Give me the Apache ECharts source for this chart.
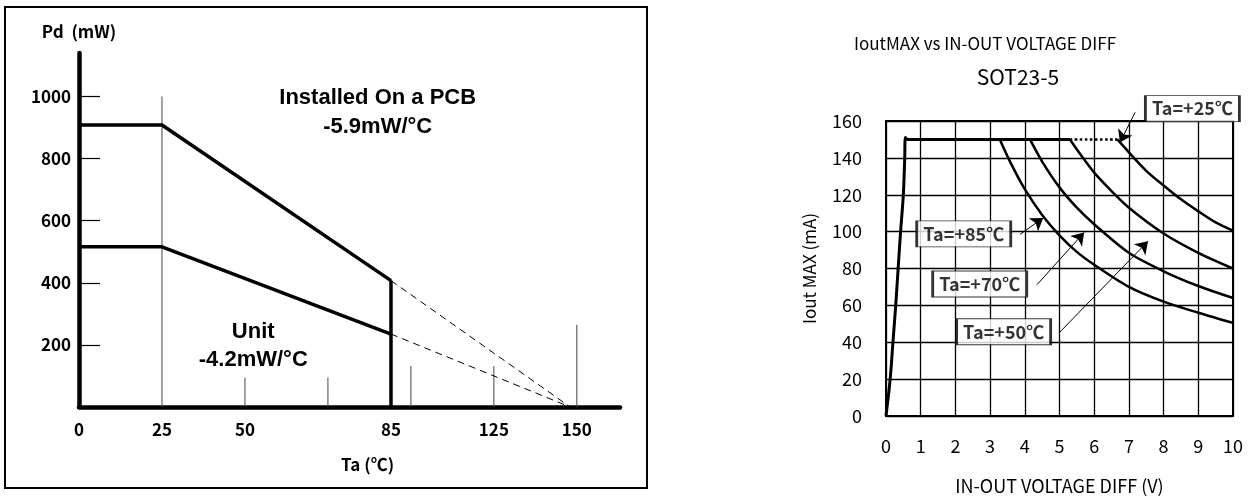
<!DOCTYPE html>
<html><head><meta charset="utf-8">
<script src="https://cdn.jsdelivr.net/npm/echarts@6/dist/echarts.min.js"></script>
<style>html,body{margin:0;padding:0;background:#fff}#c{width:1250px;height:500px}</style>
</head><body><div id="c"></div>
<script>
// ---------- Left chart: Pd vs Ta ----------
const pdTickValues = [200, 400, 600, 800, 1000];
const taTickValues = [0, 25, 50, 94, 125, 150];
const taTickLabels = ['0', '25', '50', '85', '125', '150'];
const pcbTa = [0, 25, 94];
const pcbPd = [908, 908, 407];
const unitTa = [0, 25, 94];
const unitPd = [516, 516, 235];
const cutTa = [94, 94];
const cutPd = [0, 407];
const pcbDashTa = [94, 148];
const pcbDashPd = [407, 0];
const unitDashTa = [94, 148];
const unitDashPd = [235, 0];
const guideTa = [25, 50, 75, 100, 125, 150];
const guideTop = [1000, 95, 95, 132, 132, 265];
const noteTa = [90, 90, 52.5, 52.5];
const notePd = [995, 902, 241, 151];
const noteText = ['Installed On a PCB', '-5.9mW/°C', 'Unit', '-4.2mW/°C'];

// ---------- Right chart: IoutMAX vs IN-OUT voltage diff ----------
const riseV = [0, 0.12, 0.2, 0.28, 0.35, 0.42, 0.5, 0.54, 0.56, 0.62, 5.3];
const riseI = [0, 20, 40, 60, 80, 100, 120, 140, 151, 150, 150];
const flatV = [5.3, 6.67];
const flatI = [150, 150];
const v85 = [3.28, 3.6, 4, 4.5, 5, 5.5, 6, 7, 8, 9, 10];
const i85 = [150, 137, 123, 109, 98, 89, 82, 70, 62, 56, 50.5];
const v70 = [4.15, 4.5, 5, 5.5, 6, 7, 8, 9, 10];
const i70 = [150, 138, 124, 113, 104, 88.5, 78.5, 70.5, 64];
const v50 = [5.3, 5.6, 6, 6.5, 7, 8, 9, 10];
const i50 = [150, 142, 132, 122, 113, 99, 88.5, 80];
const v25 = [6.67, 7, 7.5, 8, 8.5, 9, 9.5, 10];
const i25 = [150, 143, 133, 125, 117.5, 111, 105, 100.5];
const tagText = ['Ta=+25℃', 'Ta=+85℃', 'Ta=+70℃', 'Ta=+50℃'];
const tagV = [8.83, 2.24, 2.70, 3.39];
const tagI = [166.7, 98.8, 71.6, 45.7];
const arrowFromV = [7.18, 3.86, 4.35, 5.01];
const arrowFromI = [164.7, 98.5, 71.2, 45.5];
const arrowToV = [6.74, 4.53, 5.71, 7.55];
const arrowToI = [148.3, 107.4, 99.5, 94.8];

const zip = (a, b) => a.map((x, i) => [x, b[i]]);
const jp = 'Noto Sans CJK JP';
const black = '#000';

const chart = echarts.init(document.getElementById('c'), null, {renderer: 'canvas'});

const leftLine = (xs, ys, width, type) => ({
  type: 'line', xAxisIndex: 0, yAxisIndex: 0, data: zip(xs, ys),
  symbol: 'none', silent: true,
  lineStyle: {color: black, width: width, type: type || 'solid'}, z: 5
});
const rightLine = (xs, ys, width, type) => ({
  type: 'line', xAxisIndex: 1, yAxisIndex: 1, data: zip(xs, ys),
  symbol: 'none', silent: true, smooth: 0.3,
  lineStyle: {color: black, width: width, type: type || 'solid'}, z: 5
});

const series = [];
guideTa.forEach((t, i) => series.push(Object.assign(leftLine([t, t], [0, guideTop[i]], 1), {lineStyle: {color: '#444', width: 1}, z: 2})));
series.push(leftLine(pcbTa, pcbPd, 3.5));
series.push(leftLine(unitTa, unitPd, 3.5));
series.push(leftLine(cutTa, cutPd, 3.5));
series.push(leftLine(pcbDashTa, pcbDashPd, 1, [7, 5]));
series.push(leftLine(unitDashTa, unitDashPd, 1, [7, 5]));
series.push({
  type: 'scatter', xAxisIndex: 0, yAxisIndex: 0, silent: true, z: 6,
  symbol: 'rect', symbolSize: 0.1, itemStyle: {color: '#fff', opacity: 1},
  data: noteTa.map((t, i) => ({value: [t, notePd[i]], name: noteText[i]})),
  label: {show: true, position: 'inside', formatter: p => p.name, opacity: 1,
    textBorderWidth: 0, textShadowBlur: 0,
    fontFamily: 'Liberation Sans', fontWeight: 'bold', fontSize: 22, color: '#000'}
});

series.push(rightLine(riseV, riseI, 3));
series.push(rightLine(flatV, flatI, 2.5, 'dotted'));
series.push(rightLine(v85, i85, 2.5));
series.push(rightLine(v70, i70, 2.5));
series.push(rightLine(v50, i50, 2.5));
series.push(rightLine(v25, i25, 2.5));
series.push({
  type: 'lines', coordinateSystem: 'cartesian2d', xAxisIndex: 1, yAxisIndex: 1,
  silent: true, clip: false, z: 8,
  symbol: ['none', 'arrow'], symbolSize: 12,
  lineStyle: {color: black, width: 1, opacity: 1},
  data: arrowFromV.map((v, i) => ({coords: [[v, arrowFromI[i]], [arrowToV[i], arrowToI[i]]]}))
});
series.push({
  type: 'scatter', xAxisIndex: 1, yAxisIndex: 1, silent: true, clip: false, z: 9,
  symbol: 'rect', symbolSize: [94, 26],
  itemStyle: {color: '#fff', borderColor: black, borderWidth: 1.5},
  data: tagV.map((v, i) => ({value: [v, tagI[i]], name: tagText[i]})),
  label: {show: true, position: 'inside', formatter: p => p.name,
    fontFamily: jp, fontWeight: 'bold', fontSize: 18, color: black}
});

const leftLabel = {fontFamily: jp, fontWeight: 'bold', fontSize: 17, color: black};
const rightLabel = {fontFamily: jp, fontSize: 18, color: black};

chart.setOption({
  animation: false,
  backgroundColor: '#fff',
  title: [
    {text: 'IoutMAX vs IN-OUT VOLTAGE DIFF', left: 980, top: 30, textAlign: 'center',
      textStyle: {fontFamily: jp, fontWeight: 'normal', fontSize: 17, color: black}},
    {text: 'SOT23-5', left: 1013, top: 62, textAlign: 'center',
      textStyle: {fontFamily: jp, fontWeight: 'normal', fontSize: 21, color: black}}
  ],
  graphic: [
    {type: 'rect', shape: {x: 5, y: 7, width: 642, height: 481}, silent: true,
      style: {fill: 'none', stroke: black, lineWidth: 2}}
  ],
  grid: [
    {left: 79, top: 53, width: 541, height: 354, show: false},
    {left: 886, top: 121, width: 347, height: 305, show: true, borderColor: black, borderWidth: 2, backgroundColor: 'transparent'}
  ],
  xAxis: [
    {gridIndex: 0, type: 'value', min: 0, max: 163,
      axisLine: {show: true, lineStyle: {color: black, width: 4.5}},
      axisTick: {show: false}, splitLine: {show: false},
      axisLabel: Object.assign({customValues: taTickValues, margin: 14,
        formatter: v => { const k = taTickValues.indexOf(v); return k >= 0 ? taTickLabels[k] : ''; }}, leftLabel),
      name: 'Ta (℃)', nameLocation: 'middle', nameGap: 49,
      nameTextStyle: Object.assign({padding: [0, 0, 0, 36]}, leftLabel)},
    {gridIndex: 1, type: 'value', min: 0, max: 10, interval: 1,
      axisLine: {show: true, lineStyle: {color: black, width: 2}},
      axisTick: {show: false},
      splitLine: {show: true, lineStyle: {color: black, width: 1.3}},
      axisLabel: Object.assign({margin: 21}, rightLabel),
      name: 'IN-OUT VOLTAGE DIFF (V)', nameLocation: 'middle', nameGap: 61,
      nameTextStyle: rightLabel}
  ],
  yAxis: [
    {gridIndex: 0, type: 'value', min: 0, max: 1140,
      axisLine: {show: true, lineStyle: {color: black, width: 4.5}},
      axisTick: {show: true, inside: true, length: 21, customValues: pdTickValues, lineStyle: {color: black, width: 1.2}},
      splitLine: {show: false},
      axisLabel: Object.assign({customValues: pdTickValues, margin: 8, formatter: v => String(v)}, leftLabel),
      name: 'Pd  (mW)', nameLocation: 'end', nameGap: 13, nameTextStyle: leftLabel},
    {gridIndex: 1, type: 'value', min: 0, max: 160, interval: 20,
      axisLine: {show: true, lineStyle: {color: black, width: 2}},
      axisTick: {show: false},
      splitLine: {show: true, lineStyle: {color: black, width: 1.3}},
      axisLabel: Object.assign({margin: 24}, rightLabel),
      name: 'Iout MAX (mA)', nameLocation: 'middle', nameGap: 68,
      nameTextStyle: Object.assign({}, rightLabel, {fontSize: 17})}
  ],
  series: series
});
</script></body></html>
